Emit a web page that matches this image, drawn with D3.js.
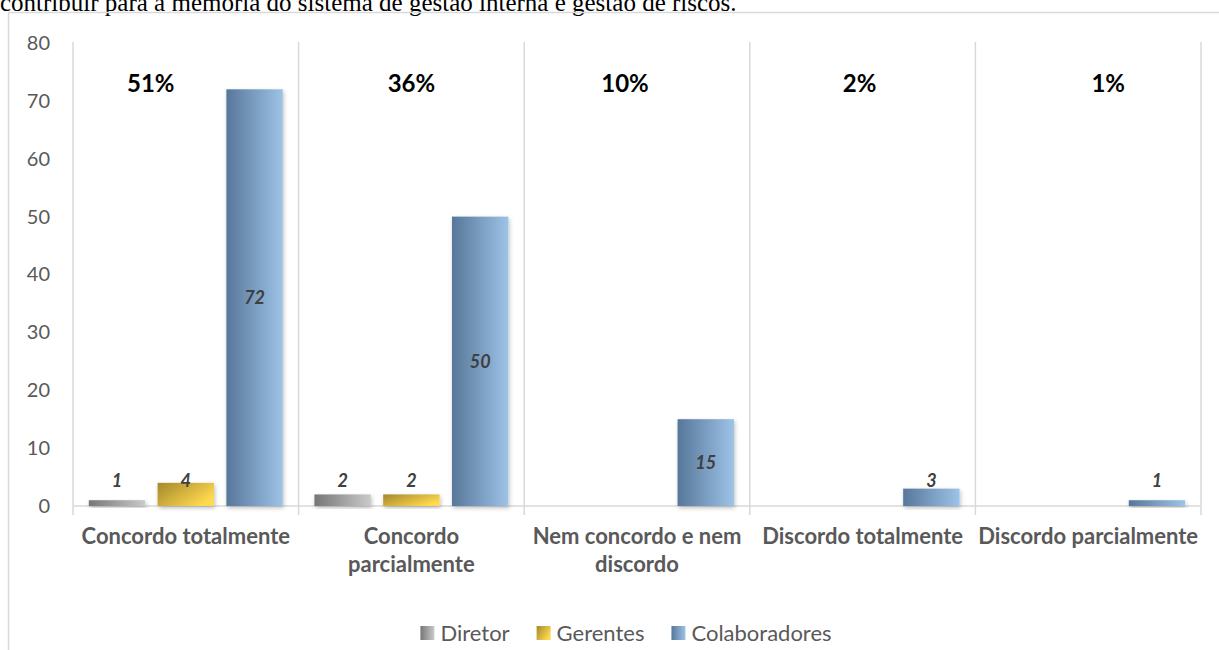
<!DOCTYPE html>
<html>
<head>
<meta charset="utf-8">
<script src="https://cdn.jsdelivr.net/npm/d3@7"></script>
<style>
  html, body { margin: 0; padding: 0; background: #fff; }
  svg { display: block; }
</style>
</head>
<body>
<svg id="chart" width="1219" height="650"></svg>
<script>
// Respostas por categoria e grupo
const categories = [
  ["Concordo totalmente"],
  ["Concordo", "parcialmente"],
  ["Nem concordo e nem", "discordo"],
  ["Discordo totalmente"],
  ["Discordo parcialmente"]
];
const seriesNames = ["Diretor", "Gerentes", "Colaboradores"];
const diretor = [1, 2, 0, 0, 0];
const gerentes = [4, 2, 0, 0, 0];
const colaboradores = [72, 50, 15, 3, 1];
const percentLabels = ["51%", "36%", "10%", "2%", "1%"];
const yTicks = [0, 10, 20, 30, 40, 50, 60, 70, 80];

const seriesValues = [diretor, gerentes, colaboradores];

const svg = d3.select("#chart");
const W = 1219, H = 650;

const gridColor = "#d9d9d9";
const textColor = "#595959";
const font = "Lato, 'Open Sans', sans-serif";

// caption line of the surrounding document
svg.append("text")
  .attr("x", 0).attr("y", 11)
  .attr("font-family", "'Liberation Serif', 'Times New Roman', serif")
  .attr("font-size", 25)
  .attr("fill", "#000")
  .text("contribuir para a memória do sistema de gestão interna e gestão de riscos.");

// chart frame
svg.append("rect")
  .attr("x", 8.5).attr("y", 12.5)
  .attr("width", W + 10).attr("height", H)
  .attr("fill", "none")
  .attr("stroke", gridColor)
  .attr("stroke-width", 1.5);

const plot = { left: 73, right: 1201, top: 43, bottom: 506 };

const x0 = d3.scaleBand()
  .domain(d3.range(categories.length))
  .range([plot.left, plot.right])
  .paddingInner(0).paddingOuter(0);

const x1 = d3.scaleBand()
  .domain(seriesNames)
  .range([0, x0.bandwidth()])
  .paddingInner(0.18).paddingOuter(0.23);

const y = d3.scaleLinear().domain([0, 80]).range([plot.bottom, plot.top]);

// gradients
const defs = svg.append("defs");
function grad(id, c1, c2, x2 = "100%", y2 = "0%") {
  const g = defs.append("linearGradient").attr("id", id)
    .attr("x1", "0%").attr("y1", "0%").attr("x2", x2).attr("y2", y2);
  g.append("stop").attr("offset", "0%").attr("stop-color", c1);
  g.append("stop").attr("offset", "100%").attr("stop-color", c2);
}
grad("g-diretor", "#767676", "#cacaca");
grad("g-gerentes", "#a4882c", "#ffd94f", "100%", "60%");
grad("g-colab", "#57779a", "#9dc3e7");
const fills = ["url(#g-diretor)", "url(#g-gerentes)", "url(#g-colab)"];

const shadow = defs.append("filter").attr("id", "shadow")
  .attr("x", "-20%").attr("y", "-10%").attr("width", "140%").attr("height", "130%");
shadow.append("feDropShadow")
  .attr("dx", 1).attr("dy", 2).attr("stdDeviation", 2)
  .attr("flood-color", "#000").attr("flood-opacity", 0.25);

// category separators (extending below the axis as tick marks)
svg.append("g").selectAll("line")
  .data(d3.range(categories.length + 1))
  .join("line")
  .attr("x1", i => i < categories.length ? x0(i) : plot.right)
  .attr("x2", i => i < categories.length ? x0(i) : plot.right)
  .attr("y1", plot.top - 1).attr("y2", plot.bottom + 9)
  .attr("stroke", gridColor).attr("stroke-width", 1.5);

// horizontal axis
svg.append("line")
  .attr("x1", plot.left).attr("x2", plot.right)
  .attr("y1", plot.bottom).attr("y2", plot.bottom)
  .attr("stroke", gridColor).attr("stroke-width", 1.5);

// y tick labels
const yAxis = svg.append("g")
  .attr("transform", "translate(50,0)")
  .call(d3.axisLeft(y).tickValues(yTicks).tickSize(0).tickPadding(0));
yAxis.select(".domain").remove();
yAxis.selectAll("text")
  .attr("font-family", font).attr("font-size", 20)
  .attr("fill", textColor);

// bars
const barData = [];
categories.forEach((c, ci) => {
  seriesNames.forEach((s, si) => {
    const v = seriesValues[si][ci];
    if (v > 0) barData.push({ ci, si, s, v });
  });
});

svg.append("g").selectAll("rect")
  .data(barData)
  .join("rect")
  .attr("x", d => x0(d.ci) + x1(d.s))
  .attr("y", d => y(d.v))
  .attr("width", x1.bandwidth())
  .attr("height", d => y(0) - y(d.v))
  .attr("fill", d => fills[d.si])
  .attr("filter", "url(#shadow)");

// value labels
svg.append("g").selectAll("text")
  .data(barData)
  .join("text")
  .attr("x", d => x0(d.ci) + x1(d.s) + x1.bandwidth() / 2)
  .attr("y", d => Math.min((y(d.v) + y(0)) / 2, y(0) - 25))
  .attr("dy", "0.35em")
  .attr("text-anchor", "middle")
  .attr("font-family", font).attr("font-size", 18)
  .attr("font-weight", "bold").attr("font-style", "italic")
  .attr("fill", "#404040")
  .text(d => d.v);

// percentage labels per category
const pctNudge = [-35, 0, -12, -3, 20];
svg.append("g").selectAll("text")
  .data(percentLabels)
  .join("text")
  .attr("x", (d, i) => x0(i) + x0.bandwidth() / 2 + pctNudge[i])
  .attr("y", 92)
  .attr("text-anchor", "middle")
  .attr("font-family", font).attr("font-size", 24)
  .attr("font-weight", "bold")
  .attr("fill", "#000")
  .text(d => d);

// category labels
const catG = svg.append("g").selectAll("text")
  .data(categories)
  .join("text")
  .attr("x", (d, i) => x0(i) + x0.bandwidth() / 2)
  .attr("y", plot.bottom + 38)
  .attr("text-anchor", "middle")
  .attr("font-family", font).attr("font-size", 22)
  .attr("font-weight", "bold")
  .attr("fill", textColor);
catG.selectAll("tspan")
  .data(d => d)
  .join("tspan")
  .attr("x", function () { return this.parentNode.getAttribute("x"); })
  .attr("dy", (d, i) => i === 0 ? 0 : 28)
  .text(d => d);

// legend, laid out from measured text widths and centred
const legend = svg.append("g");
const sw = 14, swGap = 6, itemGap = 27;
let cursor = 0;
seriesNames.forEach((s, i) => {
  const g = legend.append("g");
  g.append("rect")
    .attr("x", 0).attr("y", -sw / 2)
    .attr("width", sw).attr("height", sw)
    .attr("fill", fills[i]);
  const t = g.append("text")
    .attr("x", sw + swGap).attr("y", 0)
    .attr("dy", "0.35em")
    .attr("font-family", font).attr("font-size", 22)
    .attr("fill", textColor)
    .text(s);
  const w = sw + swGap + t.node().getComputedTextLength();
  g.attr("transform", `translate(${cursor},0)`);
  cursor += w + itemGap;
});
const legendWidth = cursor - itemGap;
legend.attr("transform", `translate(${626 - legendWidth / 2},633)`);
</script>
</body>
</html>
